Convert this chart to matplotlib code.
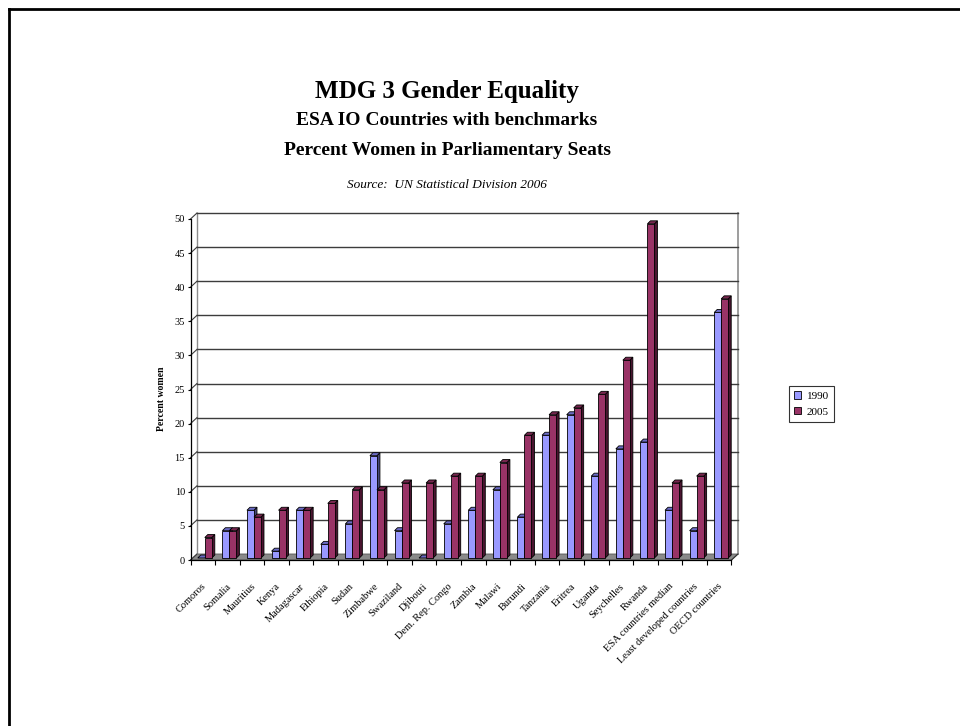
import matplotlib
matplotlib.use("Agg")
import matplotlib.pyplot as plt
import matplotlib.transforms as mtransforms
from matplotlib.patches import Polygon, Patch
from matplotlib.lines import Line2D

plt.rcParams['font.family'] = ['Liberation Serif', 'DejaVu Serif']

# ---- data -------------------------------------------------------------
countries = [
    "Comoros", "Somalia", "Mauritius", "Kenya", "Madagascar", "Ethiopia",
    "Sudan", "Zimbabwe", "Swaziland", "Djibouti", "Dem. Rep. Congo", "Zambia",
    "Malawi", "Burundi", "Tanzania", "Eritrea", "Uganda", "Seychelles",
    "Rwanda", "ESA countries median", "Least developed countries",
    "OECD countries",
]
women_1990 = [0, 4, 7, 1, 7, 2, 5, 15, 4, 0, 5, 7, 10, 6, 18, 21, 12, 16, 17, 7, 4, 36]
women_2005 = [3, 4, 6, 7, 7, 8, 10, 10, 11, 11, 12, 12, 14, 18, 21, 22, 24, 29, 49, 11, 12, 38]
series_labels = ["1990", "2005"]
y_ticks = list(range(0, 55, 5))

# ---- styling ----------------------------------------------------------
face_colors = ["#9999FF", "#993366"]
top_colors = ["#6B6BC4", "#76264E"]
side_colors = ["#47477A", "#4A1530"]
grid_color = "#3C3C3C"
wall_edge = "#8C8C8C"
floor_color = "#8A8A8A"

W, H = 960, 726
fig = plt.figure(figsize=(W / 100, H / 100), dpi=100)
fig.patch.set_facecolor("white")

# front plane of the 3-D box, in pixel terms of the figure
fx0, fx1 = 190.5, 731.5
fy0, fy1 = 560.0, 219.0
ax = fig.add_axes([fx0 / W, 1 - fy0 / H, (fx1 - fx0) / W, (fy0 - fy1) / H])
n = len(countries)
ymax = 50
ax.set_xlim(-0.5, n - 0.5)
ax.set_ylim(0, ymax)
ax.patch.set_visible(False)

ppx = (fx1 - fx0) / n          # pixels per category
ppy = (fy0 - fy1) / ymax       # pixels per percent


def depth(dx_px, dy_px):
    return dx_px / ppx, dy_px / ppy


wall_dx, wall_dy = depth(6.5, 6.0)     # front plane -> back wall
bar_ox, bar_oy = depth(2.0, 2.0)       # front plane -> bar front faces
bar_dx, bar_dy = depth(3.0, 3.0)       # thickness of each bar
bar_w = 0.285

xl, xr = -0.5, n - 0.5

# floor
ax.add_patch(Polygon([(xl, 0), (xr, 0), (xr + wall_dx, wall_dy), (xl + wall_dx, wall_dy)],
                     closed=True, facecolor=floor_color, edgecolor="#555555",
                     lw=0.6, clip_on=False, zorder=1))

# back wall gridlines and side-wall connectors
for v in y_ticks[1:]:
    ax.plot([xl + wall_dx, xr + wall_dx], [v + wall_dy, v + wall_dy],
            color=grid_color, lw=1.0, clip_on=False, zorder=1.5)
for v in y_ticks:
    ax.plot([xl, xl + wall_dx], [v, v + wall_dy], color=grid_color, lw=0.8,
            clip_on=False, zorder=1.5)
# back wall edges
ax.plot([xl + wall_dx, xl + wall_dx], [wall_dy, ymax + wall_dy], color=wall_edge,
        lw=1.0, clip_on=False, zorder=1.4)
ax.plot([xr + wall_dx, xr + wall_dx], [wall_dy, ymax + wall_dy], color=wall_edge,
        lw=1.2, clip_on=False, zorder=1.4)
ax.plot([xr, xr + wall_dx], [0, wall_dy], color="#333333", lw=0.8,
        clip_on=False, zorder=1.6)


def draw_bar(x_left, value, k, z):
    x0 = x_left + bar_ox
    y0 = bar_oy
    y1 = value + bar_oy
    x1 = x0 + bar_w
    kw = dict(edgecolor="black", lw=0.6, clip_on=False, zorder=z, joinstyle="miter")
    # right side face
    ax.add_patch(Polygon([(x1, y0), (x1 + bar_dx, y0 + bar_dy),
                          (x1 + bar_dx, y1 + bar_dy), (x1, y1)],
                         closed=True, facecolor=side_colors[k], **kw))
    # top face
    ax.add_patch(Polygon([(x0, y1), (x1, y1), (x1 + bar_dx, y1 + bar_dy),
                          (x0 + bar_dx, y1 + bar_dy)],
                         closed=True, facecolor=top_colors[k], **kw))
    # front face
    if value > 0:
        ax.add_patch(Polygon([(x0, y0), (x1, y0), (x1, y1), (x0, y1)],
                             closed=True, facecolor=face_colors[k], **kw))


z = 3
for i in range(n):
    draw_bar(i - bar_w, women_1990[i], 0, z)
    z += 0.01
    draw_bar(i, women_2005[i], 1, z)
    z += 0.01

# front axes
for side in ("top", "right"):
    ax.spines[side].set_visible(False)
for side in ("left", "bottom"):
    ax.spines[side].set_color("black")
    ax.spines[side].set_linewidth(0.9)
    ax.spines[side].set_zorder(5)

ax.set_yticks(y_ticks)
ax.set_yticklabels([str(v) for v in y_ticks])
ax.tick_params(axis="y", direction="out", length=2.5, width=0.8, pad=1.5,
               labelsize=7.5, colors="black")
ax.set_xticks([i - 0.5 for i in range(n + 1)])
ax.set_xticklabels([])
ax.tick_params(axis="x", direction="out", length=3.8, width=0.8, colors="black")

label_tf = mtransforms.offset_copy(ax.transData, fig=fig, x=2, y=-25, units="dots")
for i, name in enumerate(countries):
    ax.text(i, 0, name, transform=label_tf, rotation=45, rotation_mode="anchor",
            ha="right", va="center", fontsize=7.5)

fig.text(162 / W, 1 - 399 / H, "Percent women", rotation=90, ha="center",
         va="center", fontsize=7, fontweight="bold")

# titles
cx = 447 / W
fig.text(cx, 1 - 98 / H, "MDG 3 Gender Equality", ha="center", va="baseline",
         fontsize=18, fontweight="bold")
fig.text(cx, 1 - 125 / H, "ESA IO Countries with benchmarks", ha="center",
         va="baseline", fontsize=14, fontweight="bold")
fig.text(cx, 1 - 155 / H, "Percent Women in Parliamentary Seats", ha="center",
         va="baseline", fontsize=14, fontweight="bold")
fig.text(cx, 1 - 188 / H, "Source:  UN Statistical Division 2006", ha="center",
         va="baseline", fontsize=9.5, fontstyle="italic")

# legend
handles = [Patch(facecolor=face_colors[k], edgecolor="black", lw=0.6)
           for k in range(2)]
leg = fig.legend(handles, series_labels, loc="center left",
                 bbox_to_anchor=(789 / W, 1 - 404 / H), fontsize=8,
                 frameon=True, fancybox=False, shadow=False,
                 handlelength=0.65, handleheight=0.65, handletextpad=0.5,
                 labelspacing=0.55, borderpad=0.45, borderaxespad=0)
leg.get_frame().set_edgecolor("black")
leg.get_frame().set_linewidth(0.8)

# page frame along the left and top
fig.add_artist(Line2D([9 / W, 9 / W], [0, 1 - 9 / H], transform=fig.transFigure,
                      color="black", lw=2.0))
fig.add_artist(Line2D([9 / W, 1], [1 - 9 / H, 1 - 9 / H], transform=fig.transFigure,
                      color="black", lw=2.0))

fig.savefig("out.png", dpi=100)
